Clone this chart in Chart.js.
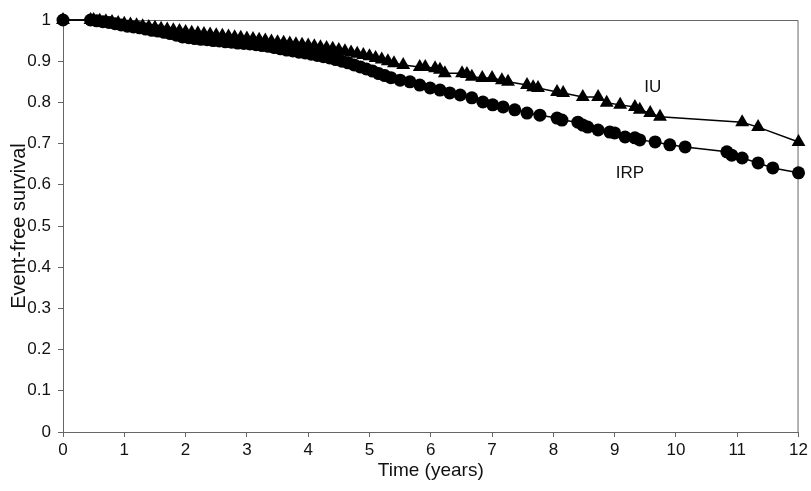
<!DOCTYPE html>
<html>
<head>
<meta charset="utf-8">
<script src="https://cdn.jsdelivr.net/npm/chart.js@4/dist/chart.umd.min.js"></script>
<style>
  html, body { margin: 0; padding: 0; background: #fff; }
  #wrap { width: 811px; height: 491px; }
</style>
</head>
<body>
<div id="wrap"><canvas id="myChart" width="811" height="491"></canvas></div>
<script>
// time in years, event-free survival
const iuTime = [0, 0.45, 0.5, 0.6, 0.7, 0.8, 0.9, 1.0, 1.1, 1.2, 1.3, 1.4, 1.5, 1.6, 1.7, 1.8, 1.9, 2.0,
  2.1, 2.2, 2.3, 2.4, 2.5, 2.6, 2.7, 2.8, 2.9, 3.0, 3.1, 3.2, 3.3, 3.4, 3.5, 3.6, 3.7, 3.8, 3.9, 4.0,
  4.1, 4.2, 4.3, 4.4, 4.5, 4.6, 4.7, 4.8, 4.9, 5.0, 5.1, 5.2, 5.3, 5.4,
  5.55, 5.82, 5.91, 6.07, 6.15, 6.23, 6.51, 6.59, 6.67, 6.84, 7.0, 7.16, 7.26, 7.57, 7.67, 7.75,
  8.06, 8.16, 8.48, 8.73, 8.87, 9.09, 9.33, 9.41, 9.58, 9.74, 11.08, 11.34, 12];
const iuSurv = [1, 1, 1, 0.998, 0.997, 0.995, 0.993, 0.991, 0.989, 0.987, 0.985, 0.983, 0.981, 0.979, 0.977, 0.975, 0.973, 0.971,
  0.969, 0.968, 0.966, 0.965, 0.963, 0.962, 0.96, 0.958, 0.957, 0.955, 0.954, 0.952, 0.95, 0.948, 0.946, 0.945, 0.943, 0.941, 0.94, 0.938,
  0.936, 0.934, 0.932, 0.93, 0.927, 0.924, 0.921, 0.918, 0.915, 0.912, 0.908, 0.904, 0.9, 0.895,
  0.891, 0.886, 0.886, 0.883, 0.879, 0.871, 0.871, 0.869, 0.862, 0.859, 0.859, 0.854, 0.85, 0.842, 0.837, 0.835,
  0.825, 0.823, 0.813, 0.813, 0.799, 0.794, 0.789, 0.782, 0.774, 0.765, 0.752, 0.74, 0.704];

const irpTime = [0, 0.45, 0.55, 0.65, 0.75, 0.85, 0.95, 1.05, 1.15, 1.25, 1.35, 1.45, 1.55, 1.65, 1.75, 1.85, 1.95,
  2.05, 2.15, 2.25, 2.35, 2.45, 2.55, 2.65, 2.75, 2.85, 2.95, 3.05, 3.15, 3.25, 3.35, 3.45, 3.55, 3.65, 3.75, 3.85, 3.95,
  4.05, 4.15, 4.25, 4.35, 4.45, 4.55, 4.65, 4.75, 4.85, 4.95, 5.05, 5.15, 5.25, 5.35, 5.5,
  5.66, 5.82, 5.99, 6.15, 6.31, 6.48, 6.67, 6.85, 7.01, 7.18, 7.37, 7.57, 7.78,
  8.06, 8.14, 8.4, 8.48, 8.56, 8.73, 8.92, 9.0, 9.17, 9.33, 9.41, 9.66, 9.9, 10.15,
  10.83, 10.91, 11.08, 11.34, 11.58, 12];
const irpSurv = [1, 1, 0.998, 0.996, 0.994, 0.991, 0.988, 0.985, 0.983, 0.981, 0.978, 0.975, 0.973, 0.97, 0.967, 0.963, 0.959,
  0.957, 0.955, 0.953, 0.952, 0.95, 0.949, 0.947, 0.946, 0.944, 0.943, 0.942, 0.94, 0.938, 0.936, 0.933, 0.93, 0.927, 0.925, 0.922, 0.92,
  0.917, 0.914, 0.911, 0.908, 0.904, 0.9, 0.896, 0.891, 0.886, 0.881, 0.876, 0.87, 0.865, 0.86, 0.854,
  0.85, 0.842, 0.835, 0.83, 0.823, 0.818, 0.811, 0.801, 0.794, 0.789, 0.782, 0.774, 0.769,
  0.762, 0.757, 0.752, 0.745, 0.74, 0.733, 0.728, 0.726, 0.716, 0.714, 0.709, 0.704, 0.697, 0.692,
  0.68, 0.672, 0.665, 0.653, 0.641, 0.629];

const seriesNames = ['IU', 'IRP'];
const labelTime = [9.62, 9.25];
const labelSurv = [0.837, 0.629];

const toPoints = (xs, ys) => xs.map((x, i) => ({ x: x, y: ys[i] }));
const font = '"Liberation Sans", Arial, sans-serif';

// box round the plot area + the IU / IRP text labels
const framePlugin = {
    id: 'frame',
    beforeDatasetsDraw(chart) {
        const ctx = chart.ctx;
        const a = chart.chartArea;
        ctx.save();
        ctx.strokeStyle = '#666';
        ctx.lineWidth = 1;
        ctx.beginPath();
        ctx.moveTo(a.left, a.top + 0.5);
        ctx.lineTo(a.right - 0.5, a.top + 0.5);
        ctx.lineTo(a.right - 0.5, a.bottom);
        ctx.stroke();
        ctx.restore();
    },
    afterDraw(chart) {
        const ctx = chart.ctx;
        ctx.save();
        ctx.fillStyle = '#111';
        ctx.font = '17px ' + font;
        ctx.textAlign = 'center';
        ctx.textBaseline = 'middle';
        seriesNames.forEach((n, i) => {
            ctx.fillText(n, chart.scales.x.getPixelForValue(labelTime[i]), chart.scales.y.getPixelForValue(labelSurv[i]));
        });
        ctx.restore();
    }
};

const data = {
    datasets: [{
        label: 'IU',
        data: toPoints(iuTime, iuSurv),
        borderColor: '#000',
        backgroundColor: '#000',
        borderWidth: 1.5,
        pointStyle: 'triangle',
        pointRadius: 8,
        pointBorderWidth: 0,
        tension: 0,
        clip: false
    }, {
        label: 'IRP',
        data: toPoints(irpTime, irpSurv),
        borderColor: '#000',
        backgroundColor: '#000',
        borderWidth: 1.5,
        pointStyle: 'circle',
        pointRadius: 6.5,
        pointBorderWidth: 0,
        tension: 0,
        clip: false
    }]
};

const config = {
    type: 'line',
    data: data,
    plugins: [framePlugin],
    options: {
        responsive: false,
        animation: false,
        layout: { padding: { left: 0, right: 12, top: 20, bottom: 0 } },
        plugins: {
            legend: { display: false },
            tooltip: { enabled: false }
        },
        scales: {
            x: {
                type: 'linear',
                min: 0,
                max: 12,
                afterFit: (s) => { s.height = 59; },
                ticks: { stepSize: 1, color: '#111', padding: 3, maxRotation: 0,
                         font: { size: 17, family: font } },
                grid: { drawOnChartArea: false, drawTicks: true, tickLength: 5, color: '#666' },
                border: { display: true, color: '#666', width: 1 },
                title: { display: true, text: 'Time (years)', color: '#111',
                         font: { size: 19, family: font },
                         padding: { top: 0, bottom: 9 } }
            },
            y: {
                min: 0,
                max: 1,
                afterFit: (s) => { s.width = 63; },
                ticks: { stepSize: 0.1, color: '#111', padding: 7,
                         callback: (v) => String(+v.toFixed(1)),
                         font: { size: 17, family: font } },
                grid: { drawOnChartArea: false, drawTicks: true, tickLength: 5, color: '#666' },
                border: { display: true, color: '#666', width: 1 },
                title: { display: true, text: 'Event-free survival', color: '#111',
                         font: { size: 20, family: font },
                         padding: { top: 7, bottom: 0 } }
            }
        }
    }
};

var myChart = new Chart(document.getElementById('myChart'), config);
</script>
</body>
</html>
